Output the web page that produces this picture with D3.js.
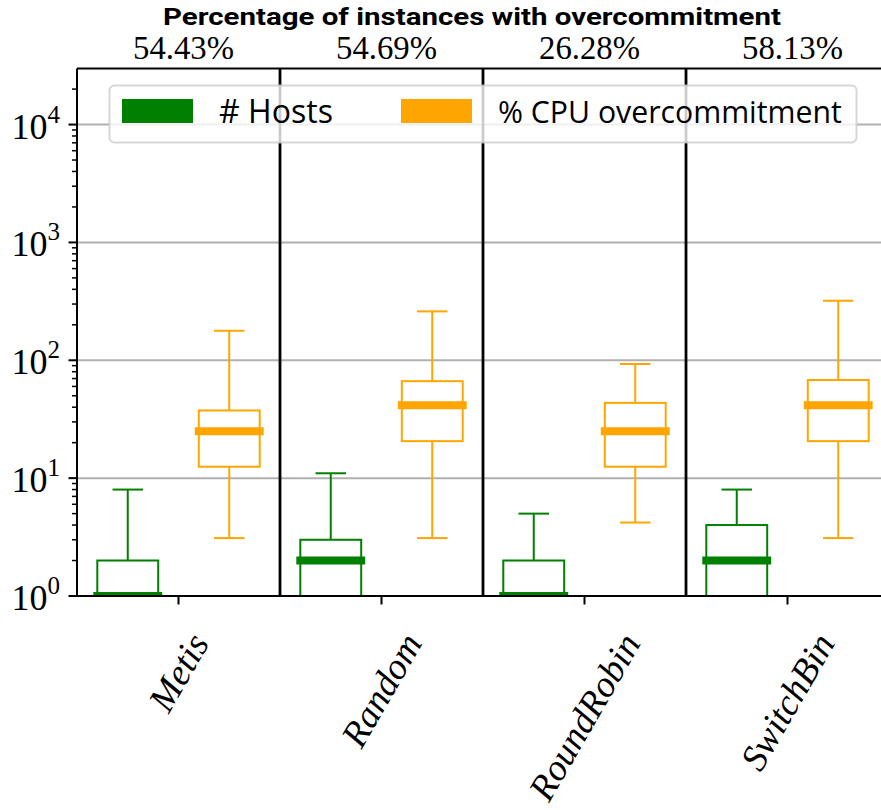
<!DOCTYPE html>
<html><head><meta charset="utf-8">
<script src="https://cdn.jsdelivr.net/npm/d3@7"></script>
<style>body{margin:0;background:#fff}</style>
</head><body><svg id="c" width="881" height="810"></svg>
<script>
// ---- data ----
const categories = ["Metis", "Random", "RoundRobin", "SwitchBin"];
const percentages = ["54.43%", "54.69%", "26.28%", "58.13%"];
const seriesNames = ["# Hosts", "% CPU overcommitment"];
const seriesColors = ["green", "orange"];
// [low whisker, q1, median, q3, high whisker]
const hostsStats = [[1, 1, 1, 2, 8], [1, 1, 2, 3, 11], [1, 1, 1, 2, 5], [1, 1, 2, 4, 8]];
const cpuStats = [[3.1, 12.5, 25, 37.5, 178], [3.1, 20.6, 41.5, 66.5, 260], [4.2, 12.5, 25, 43.5, 93], [3.1, 20.6, 41.5, 68, 320]];
const yTickExps = [0, 1, 2, 3, 4];
const titleText = "Percentage of instances with overcommitment";

// ---- layout ----
const L = 77, R = 889, T = 68.5, B = 596;
const svg = d3.select("#c");
const x = d3.scaleLinear().domain([-0.5, 3.5]).range([L, R]);
const y = d3.scaleLog().domain([1, 29900]).range([B, T]);
const unit = x(1) - x(0);
const SERIF = "Liberation Serif";

function fit(sel, w) {
  const n = sel.node();
  const cur = parseFloat(sel.attr("font-size"));
  const len = n.getComputedTextLength();
  sel.attr("font-size", cur * w / len);
}

svg.append("defs").append("clipPath").attr("id", "clip")
  .append("rect").attr("x", L).attr("y", T).attr("width", R - L).attr("height", B - T);

// gridlines
svg.append("g").selectAll("line").data(yTickExps.slice(1)).join("line")
  .attr("x1", L).attr("x2", R)
  .attr("y1", d => y(Math.pow(10, d))).attr("y2", d => y(Math.pow(10, d)))
  .attr("stroke", "#b0b0b0").attr("stroke-width", 2);

// separators
svg.append("g").selectAll("line").data([0.5, 1.5, 2.5]).join("line")
  .attr("x1", d => x(d)).attr("x2", d => x(d)).attr("y1", T).attr("y2", B)
  .attr("stroke", "#000").attr("stroke-width", 2.8);

// boxes
const plot = svg.append("g").attr("clip-path", "url(#clip)");
const series = [hostsStats, cpuStats];
const offsets = [-0.25, 0.25];
const halfBox = 0.15, halfCap = 0.075;
series.forEach((stats, si) => {
  const col = seriesColors[si];
  const g = plot.append("g");
  stats.forEach((s, ci) => {
    const cx = x(ci + offsets[si]);
    const [lo, q1, med, q3, hi] = s;
    const bw = halfBox * unit, cw = halfCap * unit;
    g.append("line").attr("x1", cx).attr("x2", cx).attr("y1", y(q3)).attr("y2", y(hi))
      .attr("stroke", col).attr("stroke-width", 2);
    g.append("line").attr("x1", cx).attr("x2", cx).attr("y1", y(q1)).attr("y2", y(lo))
      .attr("stroke", col).attr("stroke-width", 2);
    [lo, hi].forEach(v => g.append("line").attr("x1", cx - cw).attr("x2", cx + cw)
      .attr("y1", y(v)).attr("y2", y(v)).attr("stroke", col).attr("stroke-width", 2));
    g.append("rect").attr("x", cx - bw).attr("y", y(q3)).attr("width", 2 * bw)
      .attr("height", Math.max(0, y(q1) - y(q3)))
      .attr("fill", "none").attr("stroke", col).attr("stroke-width", 2);
    g.append("line").attr("x1", cx - bw).attr("x2", cx + bw).attr("y1", y(med)).attr("y2", y(med))
      .attr("stroke", col).attr("stroke-width", 8).attr("stroke-linecap", "square");
  });
});

// spines
svg.append("line").attr("x1", L).attr("x2", L).attr("y1", T).attr("y2", B).attr("stroke", "#000").attr("stroke-width", 2);
svg.append("line").attr("x1", L).attr("x2", R).attr("y1", B).attr("y2", B).attr("stroke", "#000").attr("stroke-width", 2);
svg.append("line").attr("x1", L).attr("x2", R).attr("y1", T).attr("y2", T).attr("stroke", "#000").attr("stroke-width", 2);
svg.append("line").attr("x1", R).attr("x2", R).attr("y1", T).attr("y2", B).attr("stroke", "#000").attr("stroke-width", 2);

// y ticks (major + minor)
const minor = [];
for (let e = 0; e < 5; e++) for (let m = 2; m <= 9; m++) { const v = m * Math.pow(10, e); if (v < 29900) minor.push(v); }
svg.append("g").selectAll("line").data(minor).join("line")
  .attr("x1", L - 5).attr("x2", L).attr("y1", d => y(d)).attr("y2", d => y(d))
  .attr("stroke", "#000").attr("stroke-width", 1.5);
svg.append("g").selectAll("line").data(yTickExps).join("line")
  .attr("x1", L - 8.5).attr("x2", L).attr("y1", d => y(Math.pow(10, d))).attr("y2", d => y(Math.pow(10, d)))
  .attr("stroke", "#000").attr("stroke-width", 2);
const yl = svg.append("g").selectAll("text").data(yTickExps).join("text")
  .attr("x", L - 17).attr("y", d => y(Math.pow(10, d)) + 14)
  .attr("text-anchor", "end").attr("font-family", SERIF).attr("fill", "#000");
yl.append("tspan").attr("font-size", 36).text("10");
yl.append("tspan").attr("font-size", 25).attr("dy", -16).text(d => d);

// x ticks
svg.append("g").selectAll("line").data(categories).join("line")
  .attr("x1", (d, i) => x(i)).attr("x2", (d, i) => x(i)).attr("y1", B).attr("y2", B + 8.5)
  .attr("stroke", "#000").attr("stroke-width", 2);

// x labels rotated 60 degrees, bbox centred under tick
const ang = 60 * Math.PI / 180;
const targetLens = [76, 118, 190, 164];
const labelGroups = categories.map(c => {
  const g = svg.append("g");
  const t = g.append("text").attr("font-family", SERIF).attr("font-style", "italic")
    .attr("font-size", 35).attr("text-anchor", "middle").attr("dominant-baseline", "central")
    .attr("fill", "#000").text(c);
  return { g, t, len: t.node().getComputedTextLength() };
});
const ratio = d3.mean(labelGroups, (o, i) => targetLens[i] / o.len);
const xfs = 35 * ratio;
labelGroups.forEach((o, i) => {
  o.t.attr("font-size", xfs);
  const len = o.t.node().getComputedTextLength();
  const h = xfs * 1.05;
  const hb = len * Math.sin(ang) + h * Math.cos(ang);
  o.g.attr("transform", `translate(${x(i)},${627 + hb / 2}) rotate(-60)`);
});

// percentages
percentages.forEach((p, i) => {
  const t = svg.append("text").attr("x", x(i) + 5).attr("y", 59).attr("text-anchor", "middle")
    .attr("font-family", SERIF).attr("font-size", 32).attr("fill", "#000").text(p);
  fit(t, 101);
});

// title
svg.append("text").attr("x", 472).attr("y", 25).attr("text-anchor", "middle")
  .attr("font-family", "Roboto, sans-serif").attr("font-weight", "bold").attr("font-size", 23)
  .attr("textLength", 618).attr("lengthAdjust", "spacingAndGlyphs")
  .attr("fill", "#000").text(titleText);

// legend
const lg = svg.append("g");
lg.append("rect").attr("x", 109.5).attr("y", 85.5).attr("width", 747).attr("height", 57).attr("rx", 5)
  .attr("fill", "#fff").attr("fill-opacity", 0.8).attr("stroke", "#cccccc").attr("stroke-opacity", 0.8).attr("stroke-width", 2);
const legX = [122, 401];
const legTX = [219, 498];
const legW = [114, 344];
seriesNames.forEach((n, i) => {
  lg.append("rect").attr("x", legX[i]).attr("y", 99).attr("width", 71).attr("height", 24).attr("fill", seriesColors[i]);
  const t = lg.append("text").attr("x", legTX[i]).attr("y", 123).attr("font-family", "'Open Sans', sans-serif")
    .attr("font-size", 30).attr("fill", "#000").text(n);
  fit(t, legW[i]);
});
</script></body></html>
